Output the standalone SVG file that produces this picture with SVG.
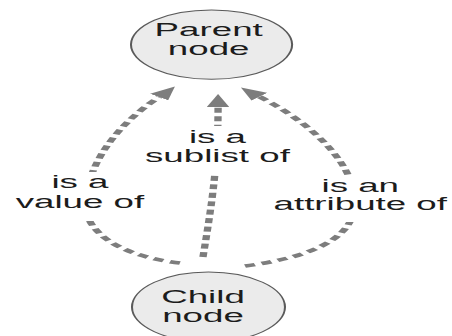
<svg xmlns="http://www.w3.org/2000/svg" width="452" height="336" viewBox="0 0 452 336">
  <defs>
    <style>
      .node ellipse { fill: #ebebeb; stroke: #5a5a5a; stroke-width: 1; }
      text { font-family: "Liberation Sans", Arial, sans-serif; font-size: 18px; fill: #1c1c1c; text-anchor: middle; }
      .edge { fill: none; stroke: #7d7d7d; stroke-width: 3.6; stroke-dasharray: 5 3.5; marker-end: url(#head); }
      .mask { fill: #ffffff; }
    </style>
    <marker id="head" markerUnits="userSpaceOnUse" markerWidth="14" markerHeight="11" viewBox="0 0 14 11" refX="0" refY="5.5" orient="auto">
      <path d="M0,0 L13,5.5 L0,11 z" fill="#7d7d7d"/>
    </marker>
  </defs>
  <rect width="452" height="336" fill="#ffffff"/>
  <!-- whole drawing is laid out narrow and stretched horizontally -->
  <g transform="scale(2.04,1)">
    <g id="connectors">
      <path class="edge" d="M88.2,263 C60,257 40,232 42,200 C44,160 58,124 78,97"/>
      <path class="edge" d="M99.5,257 C102.9,215 106.9,170 106.9,107"/>
      <path class="edge" d="M120.1,266 C150,258 175,240 174,200 C173,160 150,120 127.2,96.7"/>
    </g>
    <g id="labels">
      <g id="label-value">
        <rect class="mask" x="7" y="172" width="65" height="49"/>
        <text x="39.2" y="188">is a</text>
        <text x="39.2" y="208">value of</text>
      </g>
      <g id="label-sublist">
        <rect class="mask" x="71" y="126" width="71" height="49"/>
        <text x="106.6" y="143">is a</text>
        <text x="106.6" y="162">sublist of</text>
      </g>
      <g id="label-attribute">
        <rect class="mask" x="134" y="177" width="86" height="45"/>
        <text x="176.6" y="192">is an</text>
        <text x="176.6" y="210">attribute of</text>
      </g>
    </g>
    <g id="parent" class="node">
      <ellipse cx="103.7" cy="44.6" rx="39.5" ry="34.6"/>
      <text x="102.3" y="36">Parent</text>
      <text x="102.3" y="55">node</text>
    </g>
    <g id="child" class="node">
      <ellipse cx="102.2" cy="307" rx="37.5" ry="35"/>
      <text x="99.5" y="303">Child</text>
      <text x="99.5" y="322">node</text>
    </g>
  </g>
</svg>
